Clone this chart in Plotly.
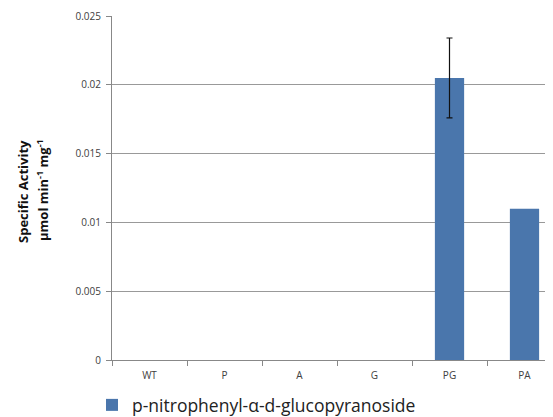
import plotly.graph_objects as go

categories = ["WT", "P", "A", "G", "PG", "PA"]
values = [0, 0, 0, 0, 0.0205, 0.0110]
errors = [0, 0, 0, 0, 0.0029, 0]
series_name = "p-nitrophenyl-α-d-glucopyranoside"
y_ticks = [0, 0.005, 0.01, 0.015, 0.02, 0.025]
y_tick_labels = ["0", "0.005", "0.01", "0.015", "0.02", "0.025"]

OFF = 8  # default page body margin
W, H = 553 - OFF, 417 - OFF


def fx(px):
    return px - OFF


def fy(py):
    return py - OFF


L, T = fx(112), fy(16)
BOT = fy(360)
B = H - BOT
PW = W - L
PH = BOT - T

fig = go.Figure()
fig.add_trace(go.Bar(
    x=categories, y=values, name=series_name,
    marker=dict(color="#4A76AC", line=dict(width=0)),
    showlegend=True,
))
err_x = [c for c, e in zip(categories, errors) if e > 0]
err_y = [v for v, e in zip(values, errors) if e > 0]
err_v = [e for e in errors if e > 0]
fig.add_trace(go.Scatter(
    x=err_x, y=err_y, mode="markers", marker=dict(size=0.1, opacity=0),
    error_y=dict(type="data", array=err_v, visible=True, color="#111111",
                 thickness=1.2, width=3),
    showlegend=False, hoverinfo="skip",
))

fig.update_layout(
    width=W, height=H,
    margin=dict(l=L, r=0, t=T, b=B, autoexpand=False),
    paper_bgcolor="white", plot_bgcolor="white",
    font=dict(family="Open Sans, sans-serif", color="#404040"),
    bargap=0.61,
    showlegend=True,
    legend=dict(orientation="h", x=(fx(92) - L) / PW, xanchor="left",
                y=(BOT - fy(405)) / PH, yanchor="middle",
                font=dict(size=17.5, color="#222222"),
                itemwidth=30, bgcolor="rgba(0,0,0,0)"),
    xaxis=dict(range=[-0.5, (PW) / 75 - 0.5], tickson="boundaries",
               ticks="outside", ticklen=5, tickcolor="#888888",
               showline=True, linecolor="#888888", linewidth=1,
               showgrid=False, tickfont=dict(size=10, color="#404040"),
               automargin=False, ticklabelstandoff=6),
    yaxis=dict(range=[0, 0.025], tickvals=y_ticks, ticktext=y_tick_labels,
               ticks="outside", ticklen=5, tickcolor="#888888",
               showline=True, linecolor="#888888", linewidth=1,
               showgrid=True, gridcolor="#999999", gridwidth=1,
               zeroline=False, tickfont=dict(size=10, color="#404040"),
               ticklabelstandoff=3, automargin=False),
    annotations=[
        dict(text="<b>Specific Activity</b>",
             textangle=-90, xref="paper", yref="paper",
             x=(fx(23) - L) / PW, y=(BOT - fy(192)) / PH,
             xanchor="center", yanchor="middle", showarrow=False,
             font=dict(size=13, color="#111111")),
        dict(text="<b>μmol min<sup>-1</sup> mg<sup>-1</sup></b>",
             textangle=-90, xref="paper", yref="paper",
             x=(fx(42) - L) / PW, y=(BOT - fy(190)) / PH,
             xanchor="center", yanchor="middle", showarrow=False,
             font=dict(size=13, color="#111111")),
    ],
)

fig.write_html("out.html")
